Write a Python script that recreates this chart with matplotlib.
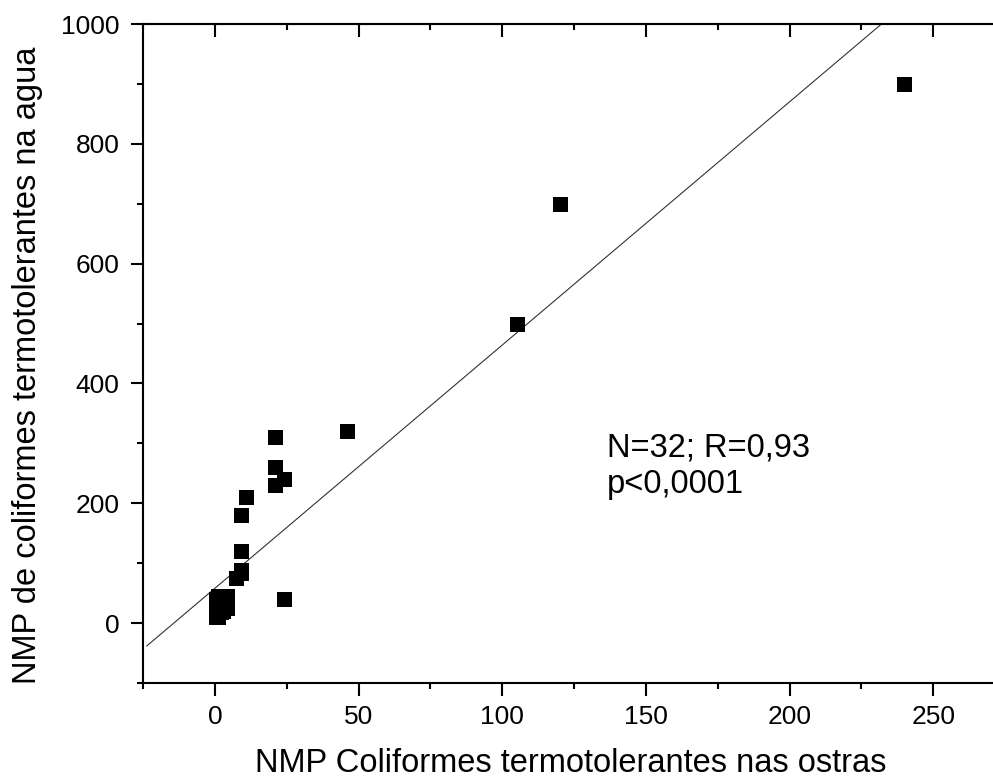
import matplotlib
matplotlib.use("Agg")
import matplotlib.pyplot as plt
from matplotlib.ticker import MultipleLocator

plt.rcParams['font.family'] = ['Liberation Sans', 'DejaVu Sans']

# Data
ostras = [240, 120, 105, 46, 21, 21, 24, 21, 11, 9, 9, 9, 9, 7.5, 24,
          0.3, 1, 0.3, 0.5, 0.3, 1, 2, 3, 4.4, 4.4, 4.4, 3, 2, 2, 3, 1.5, 1]
agua = [900, 700, 500, 320, 310, 260, 240, 230, 210, 180, 120, 89, 83, 75, 40,
        10, 10, 20, 30, 40, 45, 46, 46, 46, 35, 25, 20, 18, 30, 35, 25, 35]

fit_intercept = 58.0
fit_slope = 4.06
fit_x = [-23.7, 260]

x_ticks = [0, 50, 100, 150, 200, 250]
y_ticks = [0, 200, 400, 600, 800, 1000]

fig = plt.figure(figsize=(9.93, 7.80), dpi=100)
ax = fig.add_axes([143/993, 1-683/780, (1005-143)/993, (683-24)/780])

ax.plot(ostras, agua, linestyle='none', marker='s', markersize=10.8,
        color='black', markeredgewidth=0, zorder=3)
fit_y = [fit_intercept + fit_slope * v for v in fit_x]
ax.plot(fit_x, fit_y, color='#333333', linewidth=0.8, zorder=2)

ax.set_xlim(-25, 275)
ax.set_ylim(-100, 1000)
ax.set_xticks(x_ticks)
ax.set_yticks(y_ticks)
ax.xaxis.set_minor_locator(MultipleLocator(25))
ax.yaxis.set_minor_locator(MultipleLocator(100))

for s in ax.spines.values():
    s.set_linewidth(1.5)
ax.tick_params(which='major', direction='out', length=9, width=1.5,
               labelsize=19, top=False, right=False)
ax.tick_params(axis='x', which='major', pad=7)
ax.tick_params(axis='y', which='major', pad=8)
ax.tick_params(which='minor', direction='out', length=4.5, width=1.5,
               top=False, right=False)

secx = ax.secondary_xaxis('top')
secx.set_xticks(x_ticks)
secx.xaxis.set_minor_locator(MultipleLocator(25))
secx.tick_params(which='major', direction='in', length=9, width=1.5, labeltop=False)
secx.tick_params(which='minor', direction='in', length=4.5, width=1.5)
secx.spines['top'].set_linewidth(1.5)

secy = ax.secondary_yaxis('right')
secy.set_yticks(y_ticks)
secy.yaxis.set_minor_locator(MultipleLocator(100))
secy.tick_params(which='major', direction='in', length=9, width=1.5, labelright=False)
secy.tick_params(which='minor', direction='in', length=4.5, width=1.5)
secy.spines['right'].set_linewidth(1.5)

ax.set_xlabel('NMP Coliformes termotolerantes nas ostras', fontsize=23.5)
ax.set_ylabel('NMP de coliformes termotolerantes na agua', fontsize=23.5)
ax.xaxis.label.set_va('baseline')
ax.yaxis.label.set_va('baseline')
ax.xaxis.set_label_coords(0.4965, -(772 - 683) / 659)
ax.yaxis.set_label_coords((36 - 143) / 862, 0.4825)

ax.text(136.4, 278, 'N=32; R=0,93', fontsize=23.5, ha='left', va='baseline')
ax.text(136.4, 217.7, 'p<0,0001', fontsize=23.5, ha='left', va='baseline')

fig.savefig('out.png', dpi=100)
